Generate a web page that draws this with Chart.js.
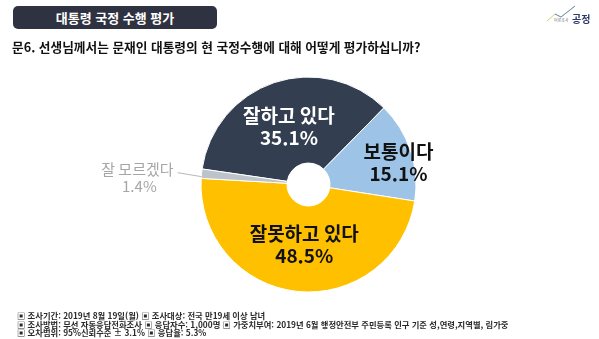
<!DOCTYPE html>
<html lang="ko">
<head>
<meta charset="utf-8">
<title>대통령 국정 수행 평가</title>
<script src="https://cdn.jsdelivr.net/npm/chart.js@4"></script>
<style>
  html, body {
    margin: 0;
    padding: 0;
    background: #ffffff;
  }
  body {
    width: 599px;
    height: 339px;
    position: relative;
    overflow: hidden;
    font-family: "Noto Sans CJK KR", "Noto Sans", sans-serif;
  }
  #chartBox {
    position: absolute;
    left: 0;
    top: 0;
    width: 599px;
    height: 339px;
  }
  .title-bar {
    position: absolute;
    left: 13px;
    top: 6px;
    width: 204px;
    height: 23px;
    border-radius: 5px;
    background: #2f3240;
    color: #ffffff;
    font-size: 13px;
    font-weight: bold;
    line-height: 23px;
    text-align: center;
  }
  .question {
    position: absolute;
    left: 12px;
    top: 37px;
    font-size: 12.7px;
    font-weight: bold;
    color: #111111;
    white-space: nowrap;
  }
  .logo {
    position: absolute;
    left: 545px;
    top: 4px;
    width: 52px;
    height: 22px;
  }
  .logo svg {
    position: absolute;
    left: 0;
    top: 0;
  }
  .logo .small {
    position: absolute;
    left: 9px;
    top: 13px;
    font-size: 4px;
    color: #7a7f88;
    white-space: nowrap;
  }
  .logo .big {
    position: absolute;
    left: 27px;
    top: 9px;
    font-size: 10px;
    font-weight: bold;
    color: #2b3a67;
    white-space: nowrap;
    line-height: 12px;
  }
  .notes {
    position: absolute;
    left: 17px;
    top: 311px;
    font-size: 8.3px;
    font-weight: bold;
    line-height: 8.6px;
    color: #2a2a2a;
    white-space: nowrap;
  }
</style>
</head>
<body>
<div id="chartBox"><canvas id="pollChart" width="599" height="339"></canvas></div>

<div class="title-bar">대통령 국정 수행 평가</div>
<div class="question">문6. 선생님께서는 문재인 대통령의 현 국정수행에 대해 어떻게 평가하십니까?</div>

<div class="logo">
  <svg width="52" height="22" viewBox="0 0 52 22">
    <polyline points="2,17 10,10 16,13 30,2" fill="none" stroke="#c9d46a" stroke-width="1"/>
    <polyline points="10,10 16,13 30,2" fill="none" stroke="#6f8fc4" stroke-width="1"/>
  </svg>
  <span class="small">여론조사</span>
  <span class="big">공정</span>
</div>

<div class="notes">
  <div>▣ 조사기간: 2019년 8월 19일(월) ▣ 조사대상: 전국 만19세 이상 남녀</div>
  <div>▣ 조사방법: 무선 자동응답전화조사 ▣ 응답자수: 1,000명 ▣ 가중치부여: 2019년 6월 행정안전부 주민등록 인구 기준 성,연령,지역별, 림가중</div>
  <div>▣ 오차범위: 95%신뢰수준 ± 3.1% ▣ 응답율: 5.3%</div>
</div>

<script>
// Survey answers and shares (%)
const answers = ["잘하고 있다", "보통이다", "잘못하고 있다", "잘 모르겠다"];
const shares = [35.1, 15.1, 48.5, 1.4];
const sliceColors = ["#333f50", "#9dc3e6", "#ffc000", "#bdc3ca"];

// Label styling per slice: distance from centre (share of the radius),
// angle nudge in degrees, colour, font size, and outside labels with a leader line
const labelStyles = [
  { r: 0.57, da: 0, color: "#ffffff", size: 19, weight: "bold", outside: false },
  { r: 0.86, da: 5, color: "#111111", size: 19, weight: "bold", outside: false },
  { r: 0.56, da: -2, color: "#111111", size: 19, weight: "bold", outside: false },
  { r: 1.0, da: 0, color: "#a6a6a6", size: 15, weight: "normal", outside: true },
];

const FONT = '"Noto Sans CJK KR", "Noto Sans", sans-serif';

const sliceLabels = {
  id: "sliceLabels",
  afterDatasetsDraw(chart) {
    const ctx = chart.ctx;
    const arcs = chart.getDatasetMeta(0).data;
    ctx.save();
    ctx.textAlign = "center";
    ctx.textBaseline = "middle";
    arcs.forEach((arc, i) => {
      const p = arc.getProps(["x", "y", "startAngle", "endAngle", "outerRadius"], true);
      const st = labelStyles[i];
      const mid = (p.startAngle + p.endAngle) / 2 + (st.da * Math.PI) / 180;
      const lineGap = st.size + 3;
      const text = shares[i].toFixed(1) + "%";
      ctx.fillStyle = st.color;
      ctx.font = st.weight + " " + st.size + "px " + FONT;

      if (!st.outside) {
        const cx = p.x + Math.cos(mid) * p.outerRadius * st.r;
        const cy = p.y + Math.sin(mid) * p.outerRadius * st.r;
        ctx.fillText(answers[i], cx, cy - lineGap / 2);
        ctx.fillText(text, cx, cy + lineGap / 2);
      } else {
        // leader line from the slice edge out to the label
        const ex = p.x + Math.cos(mid) * p.outerRadius;
        const ey = p.y + Math.sin(mid) * p.outerRadius + 3;
        const sx = ex - 24;
        const sy = ey - 4;
        ctx.strokeStyle = "#a6a6a6";
        ctx.lineWidth = 0.8;
        ctx.beginPath();
        ctx.moveTo(sx, sy);
        ctx.lineTo(ex, ey);
        ctx.stroke();

        ctx.textAlign = "right";
        const w = ctx.measureText(answers[i]).width;
        const right = sx - 4;
        ctx.fillText(answers[i], right, sy - 3);
        ctx.textAlign = "center";
        ctx.fillText(text, right - w / 2 + 2, sy + 14);
      }
    });
    ctx.restore();
  },
};

const ctx = document.getElementById("pollChart").getContext("2d");
new Chart(ctx, {
  type: "doughnut",
  data: {
    labels: answers,
    datasets: [
      {
        data: shares,
        backgroundColor: sliceColors,
        borderColor: "#ffffff",
        borderWidth: 1,
        hoverBorderWidth: 1,
        hoverOffset: 0,
      },
    ],
  },
  options: {
    responsive: false,
    animation: false,
    rotation: -81.7,
    cutout: "20%",
    layout: {
      padding: { left: 200.5, right: 182.5, top: 76.5, bottom: 46.5 },
    },
    plugins: {
      legend: { display: false },
      tooltip: { enabled: false },
    },
  },
  plugins: [sliceLabels],
});
</script>
</body>
</html>
